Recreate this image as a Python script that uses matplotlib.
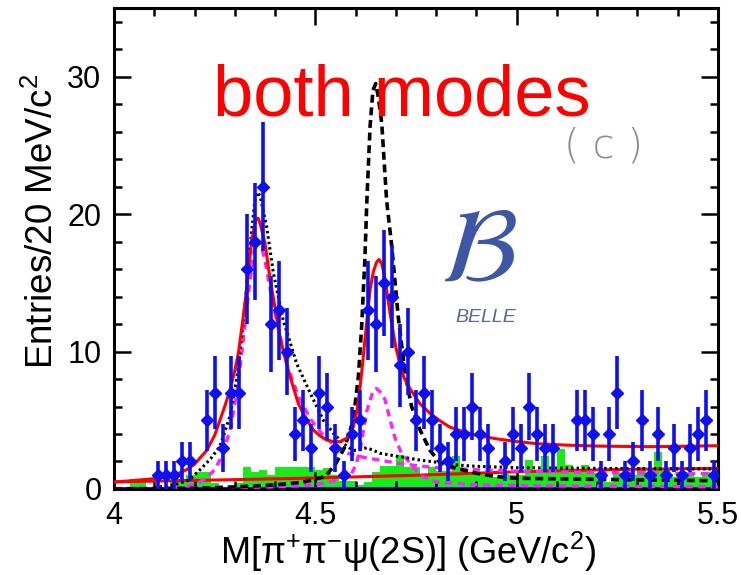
import numpy as np
import matplotlib
matplotlib.use('Agg')
import matplotlib.pyplot as plt
from matplotlib.ticker import MultipleLocator

# ---------------- data ----------------
bin_lo = 4.00
bin_width = 0.02
counts = [0, 0, 0, 0, 0, 1, 1, 1, 2, 2,
          0, 5, 7, 3, 7, 7, 16, 18, 22, 12,
          13, 10, 4, 5, 3, 7, 6, 3, 1, 4,
          5, 13, 12, 15, 14, 9, 10, 5, 7, 5,
          3, 2, 4, 4, 6, 4, 3, 0, 2, 4,
          3, 6, 4, 3, 3, 0, 0, 5, 5, 4,
          1, 4, 7, 1, 2, 5, 1, 4, 1, 3,
          1, 3, 4, 5, 1]
sideband = [0, 0, 0.7, 0.7, 0, 0, 0, 0.5, 0.7, 1.0,
            1.2, 1.2, 0.4, 0, 0, 0.4, 1.6, 1.2, 1.4, 1.0,
            1.6, 1.6, 1.6, 1.6, 1.6, 1.4, 1.5, 1.0, 0.6, 0.6,
            0.3, 0.5, 1.2, 1.7, 1.7, 2.5, 1.6, 1.6, 1.1, 1.6,
            1.3, 1.3, 2.4, 1.4, 1.2, 1.2, 1.0, 0.9, 1.1, 1.0,
            1.0, 2.1, 1.2, 2.4, 1.2, 2.9, 1.75, 1.2, 1.75, 1.15,
            1.15, 0.5, 1.15, 1.0, 1.0, 1.6, 1.0, 2.7, 1.4, 0.9,
            0.9, 1.2, 0.9, 1.2, 0.8]

# fit curves
total_x = [4.00, 4.05, 4.10, 4.15, 4.18, 4.20, 4.23, 4.25, 4.263, 4.275, 4.288, 4.30,
           4.309, 4.32, 4.33, 4.342, 4.352, 4.358, 4.363, 4.375, 4.387, 4.40, 4.412,
           4.425, 4.437, 4.458, 4.475, 4.495, 4.51, 4.528, 4.545, 4.561, 4.578, 4.594,
           4.603, 4.611, 4.617, 4.623, 4.63, 4.636, 4.644, 4.652, 4.658, 4.665, 4.671,
           4.677, 4.685, 4.694, 4.70, 4.71, 4.72, 4.735, 4.76, 4.785, 4.81, 4.834, 4.87,
           4.90, 4.95, 5.00, 5.05, 5.116, 5.20, 5.323, 5.40, 5.50]
total_y = [0.50, 0.62, 0.75, 1.0, 1.4, 1.8, 2.8, 3.9, 5.0, 6.0, 7.2, 8.6,
           9.9, 12.3, 14.7, 18.1, 19.6, 19.7, 19.3, 17.9, 15.4, 13.2, 11.1,
           9.5, 8.2, 6.2, 5.2, 4.3, 3.9, 3.56, 3.45, 3.44, 3.7, 4.5,
           5.6, 7.4, 9.0, 10.8, 12.8, 14.5, 15.8, 16.5, 16.7, 16.4, 15.6,
           14.5, 12.9, 11.3, 10.3, 9.1, 8.1, 7.3, 6.2, 5.5, 4.95, 4.5, 4.15,
           3.9, 3.65, 3.45, 3.3, 3.2, 3.12, 3.08, 3.1, 3.15]

bkg_x = [4.00, 4.25, 4.50, 4.75, 5.00, 5.25, 5.50]
bkg_y = [0.52, 0.65, 0.80, 1.00, 1.25, 1.42, 1.50]

dotted_x = [4.10, 4.15, 4.186, 4.214, 4.24, 4.263, 4.288, 4.305, 4.315, 4.325, 4.338,
            4.35, 4.357, 4.363, 4.379, 4.396, 4.42, 4.454, 4.487, 4.52, 4.545, 4.57,
            4.594, 4.61, 4.628, 4.645, 4.66, 4.71, 4.76, 4.80, 4.85, 4.90, 5.00,
            5.20, 5.50]
dotted_y = [0.1, 0.3, 0.65, 1.4, 2.2, 3.1, 5.3, 8.0, 10.5, 13.3, 17.6,
            21.0, 21.6, 21.3, 19.1, 15.7, 12.3, 9.1, 7.0, 5.0, 4.05, 3.3,
            2.8, 2.85, 3.0, 2.8, 2.6, 2.35, 2.1, 1.95, 1.75, 1.65, 1.55,
            1.5, 1.45]

dashed_x = [4.00, 4.20, 4.30, 4.40, 4.47, 4.524, 4.549, 4.574, 4.594, 4.607, 4.615,
            4.623, 4.628, 4.636, 4.643, 4.650, 4.656, 4.665, 4.677, 4.690, 4.706,
            4.723, 4.739, 4.760, 4.785, 4.810, 4.850, 4.901, 4.950, 5.00, 5.20, 5.50]
dashed_y = [0.0, 0.05, 0.15, 0.3, 0.5, 0.9, 1.75, 3.1, 5.0, 8.2, 11.8,
            16.7, 21.0, 26.4, 29.0, 29.5, 28.6, 26.6, 21.0, 17.6, 12.5,
            8.4, 6.0, 4.3, 2.8, 1.9, 1.5, 1.14, 0.9, 0.78, 0.7, 0.6]

magA_x = [4.15, 4.20, 4.23, 4.25, 4.27, 4.29, 4.305, 4.32, 4.335, 4.348, 4.357,
          4.365, 4.375, 4.39, 4.41, 4.43, 4.46, 4.49, 4.52, 4.55, 4.58, 4.62,
          4.66, 4.70, 4.75, 4.80, 4.90, 5.00, 5.20, 5.50]
magA_y = [0.05, 0.3, 0.8, 1.4, 2.5, 4.5, 7.0, 10.5, 14.5, 17.3, 18.1,
          17.8, 16.6, 14.2, 11.4, 9.0, 6.6, 5.0, 3.9, 3.1, 2.6, 2.3,
          2.1, 1.9, 1.7, 1.55, 1.4, 1.3, 1.2, 1.1]

magB_x = [4.00, 4.20, 4.40, 4.50, 4.55, 4.586, 4.60, 4.611, 4.628, 4.644, 4.652,
          4.660, 4.673, 4.685, 4.698, 4.714, 4.735, 4.76, 4.80, 4.90, 5.00, 5.50]
magB_y = [0.03, 0.08, 0.15, 0.3, 0.6, 0.9, 1.7, 2.8, 5.7, 7.2, 7.3,
          7.1, 6.5, 5.1, 3.7, 2.6, 1.9, 1.0, 0.5, 0.3, 0.25, 0.15]

x_ticks = [4, 4.5, 5, 5.5]
x_tick_labels = ['4', '4.5', '5', '5.5']
y_ticks = [0, 10, 20, 30]
y_tick_labels = ['0', '10', '20', '30']

# ---------------- figure ----------------
plt.rcParams['font.family'] = ['Liberation Sans', 'DejaVu Sans']
plt.rcParams['mathtext.fontset'] = 'custom'
plt.rcParams['mathtext.rm'] = 'Liberation Sans'
plt.rcParams['mathtext.it'] = 'Liberation Sans'
plt.rcParams['mathtext.default'] = 'regular'

fig = plt.figure(figsize=(7.41, 5.75), dpi=100)
ax = fig.add_axes([0.1538, 0.1496, 0.8152, 0.8365])

centers = np.array([bin_lo + bin_width * (k + 0.5) for k in range(len(counts))])
counts_a = np.array(counts, dtype=float)
sb = np.array(sideband, dtype=float)

# green sideband histogram
ax.bar(centers, sb, width=bin_width, color='#19eb19', linewidth=0, zorder=1)

# blue baseline
ax.plot([4.0, 5.5], [0.06, 0.06], color='#1a1aff', lw=2.2, zorder=2)

# curves
ax.plot(bkg_x, bkg_y, color='#ff0000', lw=2.2, zorder=3)
ax.plot(magB_x, magB_y, color='#ff22ff', lw=2.4, ls=(0, (2.2, 1.6)), zorder=3)
ax.plot(magA_x, magA_y, color='#ff22ff', lw=2.4, ls=(0, (2.2, 1.6)), zorder=3)
ax.plot(dashed_x, dashed_y, color='black', lw=2.6, ls=(0, (2.2, 1.3)), zorder=3)
ax.plot(dotted_x, dotted_y, color='black', lw=2.2, ls=(0, (0.8, 1.0)), zorder=3)
ax.plot(total_x, total_y, color='#ff0000', lw=2.2, zorder=4)

# data points
m = counts_a > 0
ax.errorbar(centers[m], counts_a[m], yerr=np.sqrt(counts_a[m]), fmt='D',
            color='#1010ee', ms=6, elinewidth=2.6, capsize=0, zorder=5)

ax.set_xlim(4.0, 5.5)
ax.set_ylim(0, 35)
ax.set_xticks(x_ticks)
ax.set_xticklabels(x_tick_labels)
ax.set_yticks(y_ticks)
ax.set_yticklabels(y_tick_labels)
ax.xaxis.set_minor_locator(MultipleLocator(0.1))
ax.yaxis.set_minor_locator(MultipleLocator(2))
ax.tick_params(which='both', direction='in', top=True, right=True,
               labelsize=22, width=1.8)
ax.tick_params(which='major', length=12, pad=9)
ax.tick_params(which='minor', length=6)
for s in ax.spines.values():
    s.set_linewidth(2.2)

# axis titles placed explicitly
fig.text(43 / 741, 1 - 221 / 575, 'Entries/20 MeV/c$^{2}$', fontsize=26.5,
         rotation=90, ha='center', va='center')
fig.text(408 / 741, 1 - 564 / 575, 'M[π$^{+}$π$^{-}$ψ(2S)] (GeV/c$^{2}$)',
         fontsize=26, ha='center', va='baseline')

# annotations
fig.text(213 / 741, 1 - 115 / 575, 'both modes', color='#ff0000', fontsize=52,
         ha='left', va='baseline')
fig.text(604 / 741, 1 - 146 / 575, '( c )', color='#8c8c8c', fontsize=29,
         family='DejaVu Sans', fontweight='light', ha='center', va='center')
fig.text(478 / 741, 1 - 254 / 575, r'$\mathcal{B}$', math_fontfamily='stix',
         color='#3e56a3', fontsize=76, ha='center', va='center')
fig.text(486 / 741, 1 - 318 / 575, 'BELLE', color='#5b6a92', fontsize=14,
         style='italic', ha='center', va='center')

fig.savefig('out.png', dpi=100)
